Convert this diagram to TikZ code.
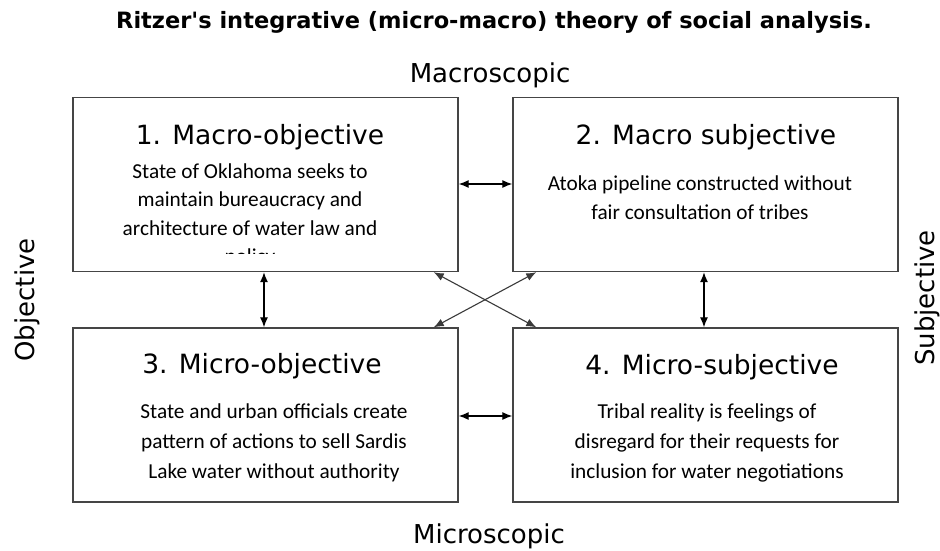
\documentclass[tikz,border=0pt]{standalone}
\usepackage{fontspec}
\setmainfont{DejaVu Sans}
\newfontfamily\bodyfont{Carlito}
\newfontfamily\titlefont[Ligatures=TeXOff]{DejaVu Sans}
\usetikzlibrary{arrows.meta,calc}
\definecolor{boxgray}{HTML}{454545}
\definecolor{arrgray}{HTML}{3A3A3A}
\tikzset{
  box/.style={draw=boxgray, line width=1.4pt, rectangle, inner sep=0pt, minimum width=385pt, minimum height=174pt},
  head/.style={anchor=base, inner sep=0pt, font=\fontsize{26.5pt}{30pt}\selectfont},
  body/.style={anchor=base, inner sep=0pt, align=center, font=\bodyfont\fontsize{21.3pt}{29pt}\selectfont},
  axis/.style={inner sep=0pt, font=\fontsize{26pt}{30pt}\selectfont},
  dbl/.style={{Latex[length=10pt,width=8pt]}-{Latex[length=10pt,width=8pt]}, line width=1.2pt, black},
  crossarr/.style={{Latex[length=10pt,width=8pt]}-{Latex[length=10pt,width=8pt]}, line width=1.1pt, arrgray}
}
\begin{document}
\begin{tikzpicture}[x=1pt,y=-1pt]
\useasboundingbox (0,0) rectangle (940,550);
\node[inner sep=0pt, anchor=base, font=\titlefont\bfseries\fontsize{22.5pt}{26pt}\selectfont] (title) at (494,28) {Ritzer's integrative (micro-macro) theory of social analysis.};
\node[axis, anchor=base] (macro) at (490,82) {Macroscopic};
\node[axis, anchor=base] (micro) at (489,543) {Microscopic};
\node[axis, rotate=90] (obj) at (27,300) {Objective};
\node[axis, rotate=90] (subj) at (927,298) {Subjective};

\node[box] (b1) at (265.5,184.5) {};
\node[box] (b2) at (705.5,184.5) {};
\node[box] (b3) at (265.5,415) {};
\node[box] (b4) at (705.5,415) {};

\node[head] (h1) at (260,144) {1. Macro-objective};
\node[head] (h2) at (706,144) {2. Macro subjective};
\node[head] (h3) at (262,373) {3. Micro-objective};
\node[head] (h4) at (712,374) {4. Micro-subjective};

\begin{scope}
\clip (74,98) rectangle (457,253);
\node[body, font=\bodyfont\fontsize{21.3pt}{28.5pt}\selectfont] (t1) at (250,263.5) {State of Oklahoma seeks to\\maintain bureaucracy and\\architecture of water law and\\policy};
\end{scope}
\node[body] (t2) at (700,219) {Atoka pipeline constructed without\\fair consultation of tribes};
\node[body, font=\bodyfont\fontsize{21.3pt}{30pt}\selectfont] (t3) at (274,478) {State and urban officials create\\pattern of actions to sell Sardis\\Lake water without authority};
\node[body, font=\bodyfont\fontsize{21.3pt}{30pt}\selectfont] (t4) at (707,478) {Tribal reality is feelings of\\disregard for their requests for\\inclusion for water negotiations};

\draw[dbl] (b1.east |- 0,184) -- (b2.west |- 0,184);
\draw[dbl] (b3.east |- 0,416) -- (b4.west |- 0,416);
\draw[dbl] (b1.south -| 264,0) -- (b3.north -| 264,0);
\draw[dbl] (b2.south -| 704,0) -- (b4.north -| 704,0);
\draw[crossarr] ($(b1.south east)+(-25,0)$) -- ($(b4.north west)+(24,0)$);
\draw[crossarr] ($(b2.south west)+(24,0)$) -- ($(b3.north east)+(-25,0)$);
\end{tikzpicture}
\end{document}
